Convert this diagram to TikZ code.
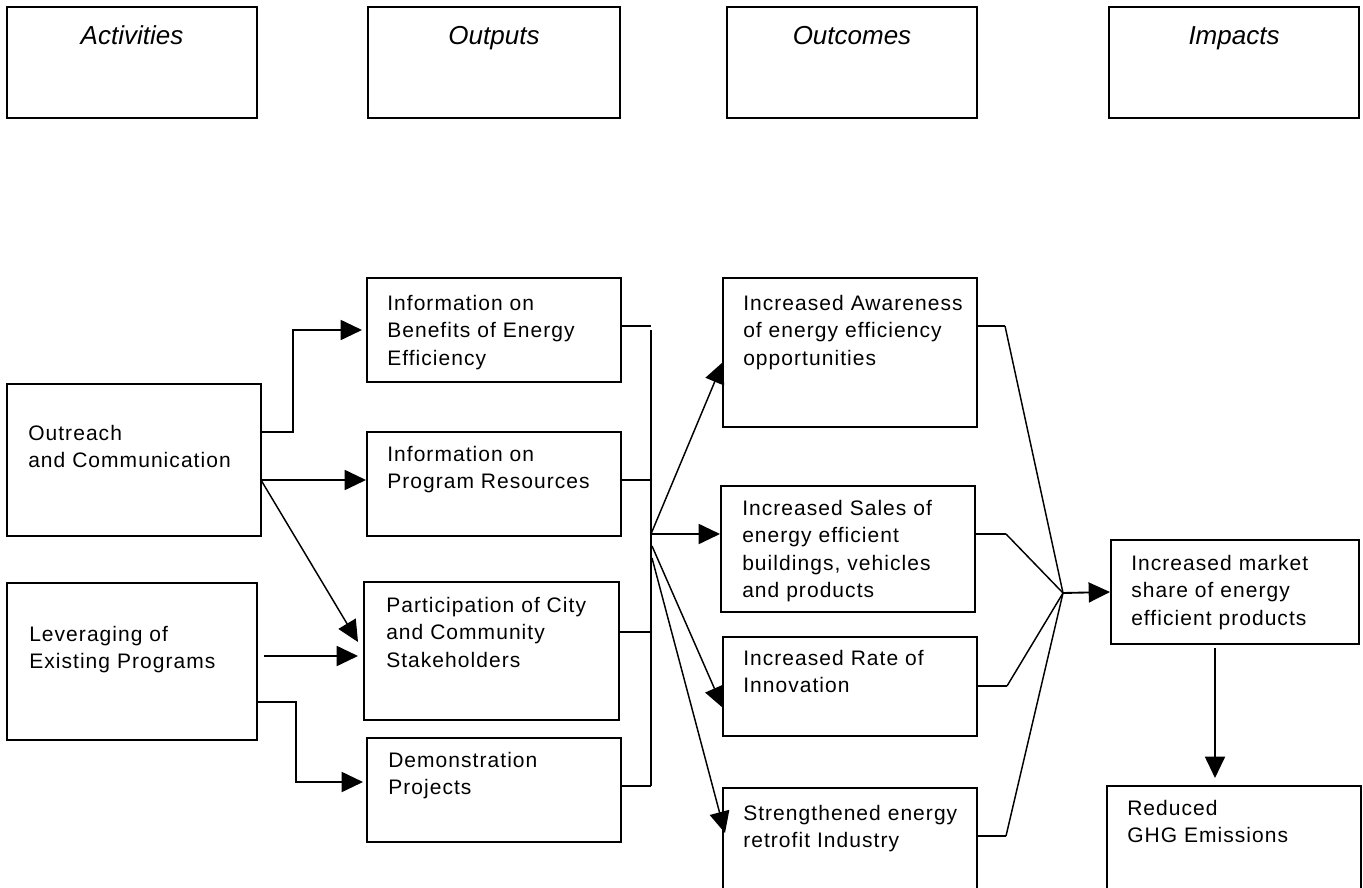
\documentclass[tikz,border=0pt]{standalone}
\usepackage{fontspec}
\setmainfont{Liberation Sans}
\newfontfamily\boxfont[LetterSpace=5]{Liberation Sans}
\usetikzlibrary{arrows.meta, fit}

\tikzset{
  box/.style={draw, line width=1.5pt, inner sep=0pt},
  txt/.style={anchor=north west, inner sep=0pt, align=left, font=\boxfont\fontsize{15.75}{20.5}\selectfont},
  head/.style={anchor=base, inner sep=0pt, font=\itshape\fontsize{19.5}{22}\selectfont},
  link/.style={line width=1.4pt},
  diag/.style={line width=1.1pt},
  arr/.style={line width=1.4pt, -{Triangle[length=16pt,width=15pt]}},
}

\begin{document}
\begin{tikzpicture}[x=0.75pt,y=0.75pt,yscale=-1,xscale=1]
\useasboundingbox (0,0) rectangle (1363,888);

%Shape: Rectangle [headings]
\node[box, fit={(7,7) (257,118)}] (act) {};
\node[box, fit={(368,7) (620,118)}] (outp) {};
\node[box, fit={(727,7) (977,118)}] (outc) {};
\node[box, fit={(1109,7) (1359,118)}] (imp) {};
% Text Node
\node[head] (act-t) at (132,45) {Activities};
\node[head] (outp-t) at (494,45) {Outputs};
\node[head] (outc-t) at (852,45) {Outcomes};
\node[head] (imp-t) at (1234,45) {Impacts};

%Shape: Rectangle [activities]
\node[box, fit={(7,384) (261,536)}] (outreach) {};
\node[box, fit={(7,583) (257,740)}] (leverage) {};
% Text Node
\node[txt] (outreach-t) at (28,425) {Outreach\\and Communication};
\node[txt] (leverage-t) at (29,626) {Leveraging of\\Existing Programs};

%Shape: Rectangle [outputs]
\node[box, fit={(367,278) (621,382)}] (ben) {};
\node[box, fit={(367,432) (621,536)}] (res) {};
\node[box, fit={(364,582) (619,720)}] (part) {};
\node[box, fit={(367,738) (621,842)}] (demo) {};
% Text Node
\node[txt] (ben-t) at (387,295) {Information on\\Benefits of Energy\\Efficiency};
\node[txt] (res-t) at (387,446) {Information on\\Program Resources};
\node[txt] (part-t) at (386,597) {Participation of City\\and Community\\Stakeholders};
\node[txt] (demo-t) at (388,752) {Demonstration\\Projects};

%Shape: Rectangle [outcomes]
\node[box, fit={(723,278) (977,427)}] (aware) {};
\node[box, fit={(721,486) (975,612)}] (sales) {};
\node[box, fit={(723,637) (977,736)}] (rate) {};
\node[box, fit={(723,788) (977,898)}] (retro) {};
% Text Node
\node[txt] (aware-t) at (743,295) {Increased Awareness\\of energy efficiency\\opportunities};
\node[txt] (sales-t) at (742,500) {Increased Sales of\\energy efficient\\buildings, vehicles\\and products};
\node[txt] (rate-t) at (743,650) {Increased Rate of\\Innovation};
\node[txt] (retro-t) at (743,805) {Strengthened energy\\retrofit Industry};

%Shape: Rectangle [impacts]
\node[box, fit={(1111,540) (1359,644)}] (market) {};
\node[box, fit={(1107,786) (1361,898)}] (ghg) {};
% Text Node
\node[txt] (market-t) at (1131,555) {Increased market\\share of energy\\efficient products};
\node[txt] (ghg-t) at (1127,800) {Reduced\\GHG Emissions};

% junctions and arrow ends
\coordinate (o1) at (293,432);
\coordinate (oc) at (261,480);
\coordinate (p1) at (358,642);
\coordinate (l1) at (264,656);
\coordinate (l2) at (296,702);
\coordinate (d1) at (363,782);
\coordinate (bt) at (651,330);
\coordinate (bb) at (651,786);
\coordinate (hub) at (651,534);
\coordinate (h2) at (652,546);
\coordinate (h3) at (652,558);
\coordinate (a1) at (723,362);
\coordinate (r1) at (723,708);
\coordinate (s1) at (725,833);
\coordinate (w1) at (1005,326);
\coordinate (w2) at (1006,534);
\coordinate (w3) at (1007,686);
\coordinate (w4) at (1006,836);
\coordinate (conv) at (1063,593);
\coordinate (m1) at (1215,648);
\coordinate (g1) at (1215,778);

%Connectors: activities -> outputs
\draw[arr] (outreach.east |- o1) -- (o1) |- ([xshift=-3pt]ben.west);
\draw[arr] (oc) -- (oc -| res.west);
\draw[arr, diag] (oc) -- (p1);
\draw[arr] (l1) -- (l1 -| p1);
\draw[arr] (leverage.east |- l2) -- (l2) |- (d1);

%Connectors: outputs -> bus
\draw[link] (ben.east |- 0,326) -- (bt |- 0,326);
\draw[link] (bt) -- (bb);
\draw[link] (res.east |- 0,480) -- (bt |- 0,480);
\draw[link] (part.east |- 0,632) -- (bt |- 0,632);
\draw[link] (demo.east |- bb) -- (bb);

%Connectors: bus -> outcomes
\draw[arr] (hub) -- (hub -| sales.west);
\draw[arr, diag] (hub) -- (a1);
\draw[arr, diag] (h2) -- (r1);
\draw[arr, diag] (h3) -- (s1);

%Connectors: outcomes -> impacts
\draw[link] (aware.east |- w1) -- (w1);
\draw[diag] (w1) -- (conv);
\draw[link] (sales.east |- w2) -- (w2);
\draw[diag] (w2) -- (conv);
\draw[link] (rate.east |- w3) -- (w3);
\draw[diag] (w3) -- (conv);
\draw[link] (retro.east |- w4) -- (w4);
\draw[diag] (w4) -- (conv);
\draw[arr] (conv) -- (market.west);
\draw[arr] (m1) -- (g1);

\end{tikzpicture}
\end{document}
